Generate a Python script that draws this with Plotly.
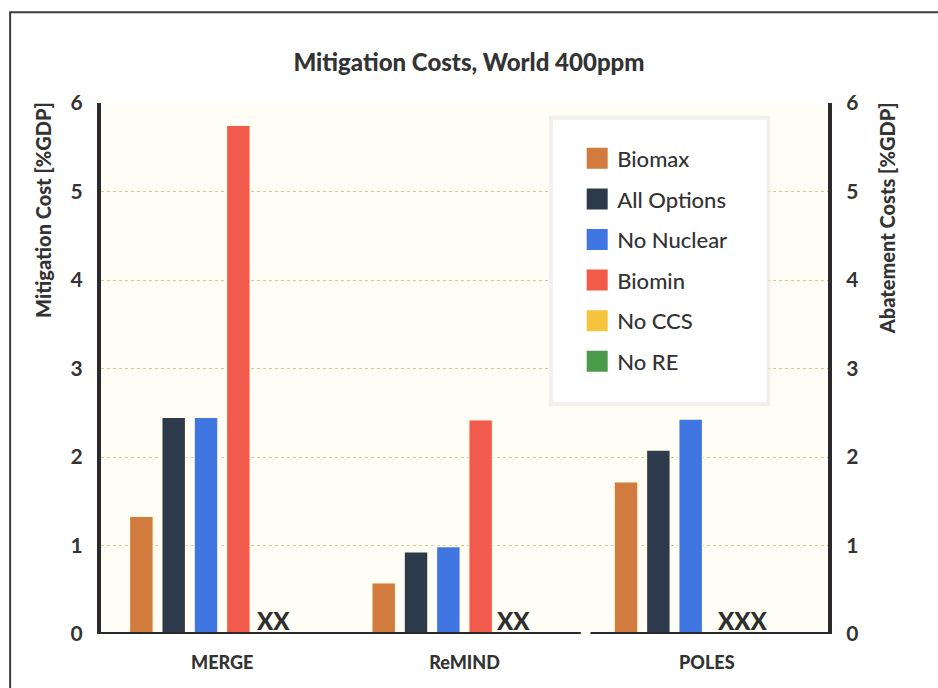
import plotly.graph_objects as go

# ---- data ----
models = ["MERGE", "ReMIND", "POLES"]
series_names = ["Biomax", "All Options", "No Nuclear", "Biomin", "No CCS", "No RE"]
biomax = [1.33, 0.58, 1.72]
all_options = [2.45, 0.93, 2.08]
no_nuclear = [2.45, 0.99, 2.43]
biomin = [5.75, 2.42, None]
no_ccs = [None, None, None]
no_re = [None, None, None]
missing_marks = ["XX", "XX", "XXX"]
y_ticks = [0, 1, 2, 3, 4, 5, 6]

series_values = [biomax, all_options, no_nuclear, biomin, no_ccs, no_re]
colors = ["#d27b3e", "#2c3a4b", "#3f76e2", "#f25a4b", "#f6c33c", "#4b9a4c"]

FONT = "Lato, Open Sans, sans-serif"
TXT = "#333333"

fig = go.Figure()
for name, vals, col in zip(series_names, series_values, colors):
    fig.add_trace(go.Bar(
        x=models, y=vals, name=name, legendgroup=name,
        marker=dict(color=col, line=dict(color="#fffbe6", width=1.5)),
        showlegend=False,
    ))
    # legend swatch (larger square)
    fig.add_trace(go.Scatter(
        x=[None], y=[None], mode="markers", name=name, legendgroup=name,
        marker=dict(symbol="square", size=16, color=col, line=dict(color=col, width=5)),
        showlegend=True,
    ))

# invisible trace to activate right axis
fig.add_trace(go.Scatter(x=[models[0]], y=[None], yaxis="y2", showlegend=False,
                         mode="markers", hoverinfo="skip"))

# XX marks for missing scenarios
xshifts = [32, 29, 8]
for m, t, xs in zip(models, missing_marks, xshifts):
    fig.add_annotation(x=m, y=0, text=t, showarrow=False,
                       xanchor="left", yanchor="bottom", xshift=xs, yshift=-3,
                       font=dict(family=FONT, size=24, color="#2e2e2e", weight=900))

# bottom axis line with a gap between ReMIND and POLES
line_style = dict(color="#2a2a2a", width=4)
fig.add_shape(type="line", xref="x", yref="y", x0=-0.52, x1=1.48, y0=0, y1=0, line=line_style)
fig.add_shape(type="line", xref="x", yref="y", x0=1.52, x1=2.52, y0=0, y1=0, line=line_style)

# outer frame
fig.add_shape(type="rect", xref="paper", yref="paper", x0=-0.125, x1=1.3, y0=-0.3, y1=1.171,
              line=dict(color="#3c3c3c", width=2), fillcolor="rgba(0,0,0,0)", layer="below")

# legend background box with soft shadow
fig.add_shape(type="rect", xref="paper", yref="paper", x0=0.619, x1=0.918, y0=0.433, y1=0.972,
              line=dict(color="rgba(215,215,215,0.35)", width=4), fillcolor="white", layer="above")

# axis titles (top aligned)
fig.add_annotation(xref="paper", yref="paper", x=-0.079, y=1.005, text="Mitigation Cost [%GDP]",
                   textangle=-90, showarrow=False, xanchor="center", yanchor="top",
                   font=dict(family=FONT, size=20, color=TXT, weight=900))
fig.add_annotation(xref="paper", yref="paper", x=1.081, y=1.005, text="Abatement Costs [%GDP]",
                   textangle=-90, showarrow=False, xanchor="center", yanchor="top",
                   font=dict(family=FONT, size=20, color=TXT, weight=900))

axis_common = dict(range=[0, 6], tickvals=y_ticks, ticktext=[str(v) for v in y_ticks],
                   showline=True, linecolor="#2a2a2a", linewidth=4, ticks="",
                   tickfont=dict(family=FONT, size=21, color=TXT, weight=700), zeroline=False)

fig.update_layout(
    width=938, height=688,
    margin=dict(l=101, r=110, t=103, b=54),
    paper_bgcolor="white", plot_bgcolor="#fffef6",
    barmode="group", bargap=0.2, bargroupgap=0.26,
    title=dict(text="Mitigation Costs, World 400ppm", x=0.5, xanchor="center",
               y=0.909, yanchor="middle", font=dict(family=FONT, size=24, color=TXT, weight=900)),
    xaxis=dict(showline=False, tickfont=dict(family=FONT, size=18, color=TXT, weight=900),
               ticks="", showgrid=False, ticklabelstandoff=16, range=[-0.5, 2.5],
               tickvals=models, ticktext=models),
    yaxis=dict(**axis_common, side="left", showgrid=True, gridcolor="#d2cc8e",
               griddash="dot", gridwidth=1, ticklabelstandoff=10),
    yaxis2=dict(**axis_common, side="right", overlaying="y", showgrid=False,
                ticklabelstandoff=10),
    legend=dict(x=0.655, y=0.935, xanchor="left", yanchor="top", bgcolor="rgba(0,0,0,0)",
                font=dict(family=FONT, size=22, color=TXT, weight=500), tracegroupgap=9,
                itemsizing="trace"),
    showlegend=True,
)

fig.write_html("out.html")
